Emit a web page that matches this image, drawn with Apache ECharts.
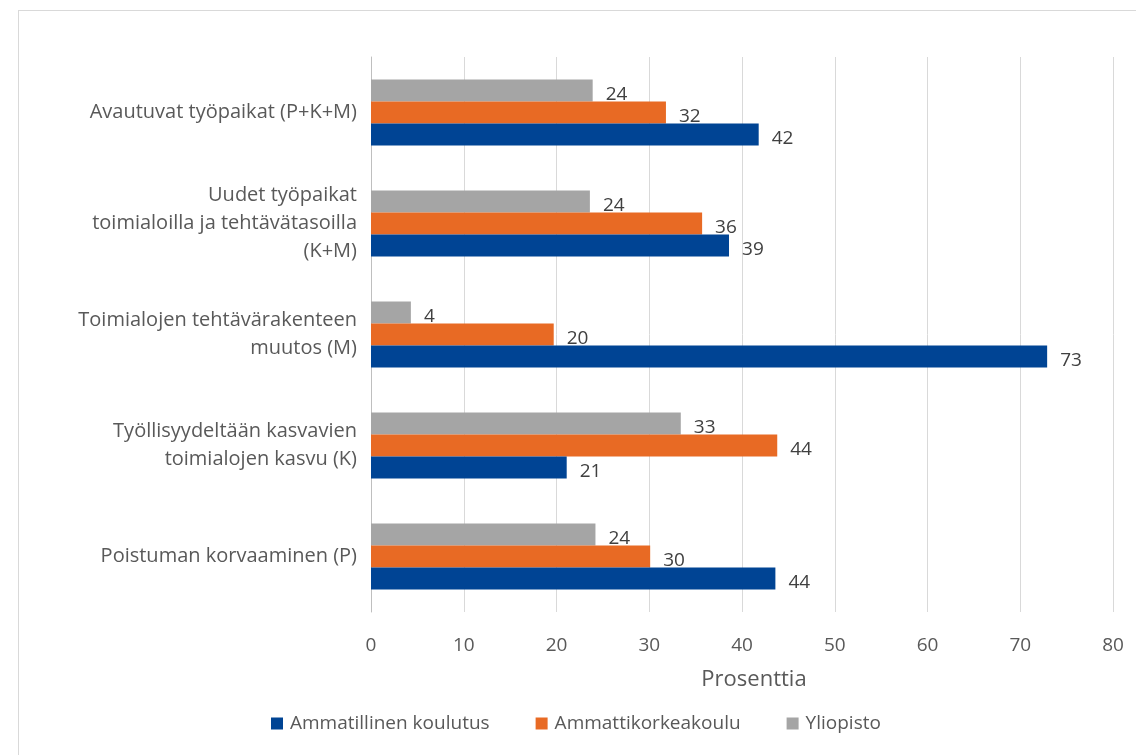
<!DOCTYPE html>
<html>
<head>
<meta charset="utf-8">
<script src="https://cdn.jsdelivr.net/npm/echarts@6/dist/echarts.min.js"></script>
<style>
  html, body { margin: 0; padding: 0; background: #fff; }
  .frame {
    position: absolute; left: 18px; top: 10px; width: 1140px; height: 760px;
    border: 1px solid #d9d9d9; box-sizing: border-box;
  }
  #chart { position: absolute; left: 0; top: 0; width: 1136px; height: 755px; }
</style>
</head>
<body>
<div class="frame"></div>
<div id="chart"></div>
<script>
const categories = [
  'Poistuman korvaaminen (P)',
  'Työllisyydeltään kasvavien\ntoimialojen kasvu (K)',
  'Toimialojen tehtävärakenteen\nmuutos (M)',
  'Uudet työpaikat\ntoimialoilla ja tehtävätasoilla\n(K+M)',
  'Avautuvat työpaikat (P+K+M)'
];
const ammatillinen = [43.6, 21.1, 72.9, 38.6, 41.8];
const amk = [30.1, 43.8, 19.7, 35.7, 31.8];
const yliopisto = [24.2, 33.4, 4.3, 23.6, 23.9];
const xTicks = [0, 10, 20, 30, 40, 50, 60, 70, 80];

const FONT = '"Open Sans", "Noto Sans", sans-serif';
const chartInstance = echarts.init(document.getElementById('chart'), null, { renderer: 'canvas' });

const makeSeries = (name, data, color) => ({
  name,
  type: 'bar',
  data,
  barWidth: 22,
  barGap: '0%',
  itemStyle: { color },
  label: {
    show: true,
    position: 'right',
    distance: 13,
    offset: [0, 4],
    color: '#404040',
    fontSize: 19,
    fontFamily: FONT,
    formatter: p => Math.round(p.value)
  }
});

chartInstance.setOption({
  animation: false,
  backgroundColor: 'transparent',
  legend: {
    data: ['Ammatillinen koulutus', 'Ammattikorkeakoulu', 'Yliopisto'],
    bottom: 17,
    left: 266,
    itemWidth: 12,
    itemHeight: 12,
    itemGap: 46,
    icon: 'rect',
    textStyle: { color: '#595959', fontSize: 19, fontFamily: FONT, padding: [0, 0, 0, 2] }
  },
  grid: {
    left: 371,
    right: 23,
    top: 57,
    bottom: 143
  },
  xAxis: {
    type: 'value',
    min: 0,
    max: 80,
    interval: 10,
    name: 'Prosenttia',
    nameLocation: 'middle',
    nameGap: 57,
    nameTextStyle: { color: '#595959', fontSize: 22, fontFamily: FONT, padding: [0, 0, 0, 24] },
    axisLine: { show: false },
    axisTick: { show: false },
    axisLabel: {
      color: '#595959', fontSize: 19, fontFamily: FONT, margin: 24,
      formatter: v => xTicks.includes(v) ? String(v) : ''
    },
    splitLine: { lineStyle: { color: '#d9d9d9', width: 1 } }
  },
  yAxis: {
    type: 'category',
    data: categories,
    axisLine: { show: true, lineStyle: { color: '#bfbfbf' } },
    axisTick: { show: false },
    axisLabel: {
      color: '#595959', fontSize: 20, fontFamily: FONT, margin: 14,
      align: 'right', lineHeight: 28
    }
  },
  series: [
    makeSeries('Yliopisto', yliopisto, '#a5a5a5'),
    makeSeries('Ammattikorkeakoulu', amk, '#e86a24'),
    makeSeries('Ammatillinen koulutus', ammatillinen, '#004494')
  ]
});
</script>
</body>
</html>
